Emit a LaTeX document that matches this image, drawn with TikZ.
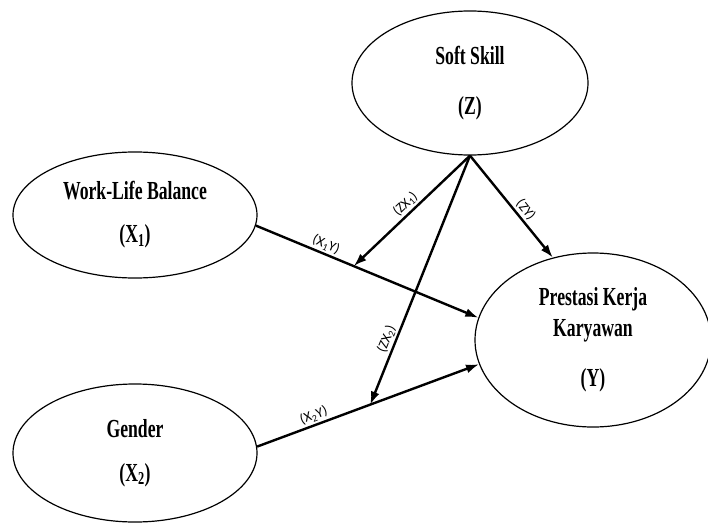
\documentclass[tikz,border=0pt]{standalone}
\usepackage{fontspec}
\newfontfamily\boxfont[FakeStretch=0.68]{Liberation Serif}
\newfontfamily\pathfont{Carlito}
\usetikzlibrary{arrows.meta,shapes.geometric}

\begin{document}
\begin{tikzpicture}[x=1pt,y=-1pt,
    var/.style={ellipse,draw,line width=1.2pt,inner sep=0pt,align=center,
      font=\boxfont\bfseries\fontsize{26}{31}\selectfont},
    link/.style={line width=2.4pt,-{Latex[length=13pt,width=9pt]}},
    lbl/.style={font=\pathfont\fontsize{14}{16}\selectfont,sloped,above=1pt,inner sep=1pt}]
      \useasboundingbox (0,0) rectangle (708,527);
      \node[var,minimum width=236pt,minimum height=144pt] (ss) at (470,83) {Soft Skill\\[19pt](Z)};
      \node[var,minimum width=244pt,minimum height=126pt] (wlb) at (135,215) {Work-Life Balance\\[12pt](X\textsubscript{1})};
      \node[var,minimum width=244pt,minimum height=138pt] (gen) at (135,453) {Gender\\[13pt](X\textsubscript{2})};
      \node[var,minimum width=236pt,minimum height=174pt] (pky) at (593,340) {Prestasi Kerja\\Karyawan\\[19pt](Y)};
      \draw[link] (wlb.-5) -- coordinate[pos=0.44] (m1) node[lbl,pos=0.3] {(X\textsubscript{1}Y)} (pky.169);
      \draw[link] (gen.3) -- coordinate[pos=0.51] (m2) node[lbl,pos=0.27] {(X\textsubscript{2}Y)} (pky.192);
      \draw[link] (ss.south) -- node[lbl,pos=0.5] {(ZX\textsubscript{1})} (m1);
      \draw[link] (ss.south) -- node[lbl,pos=0.587] {(ZY)} (pky.116);
      \draw[link] (ss.south) -- node[lbl,pos=0.75] {(ZX\textsubscript{2})} (m2);
    \end{tikzpicture}
\end{document}
